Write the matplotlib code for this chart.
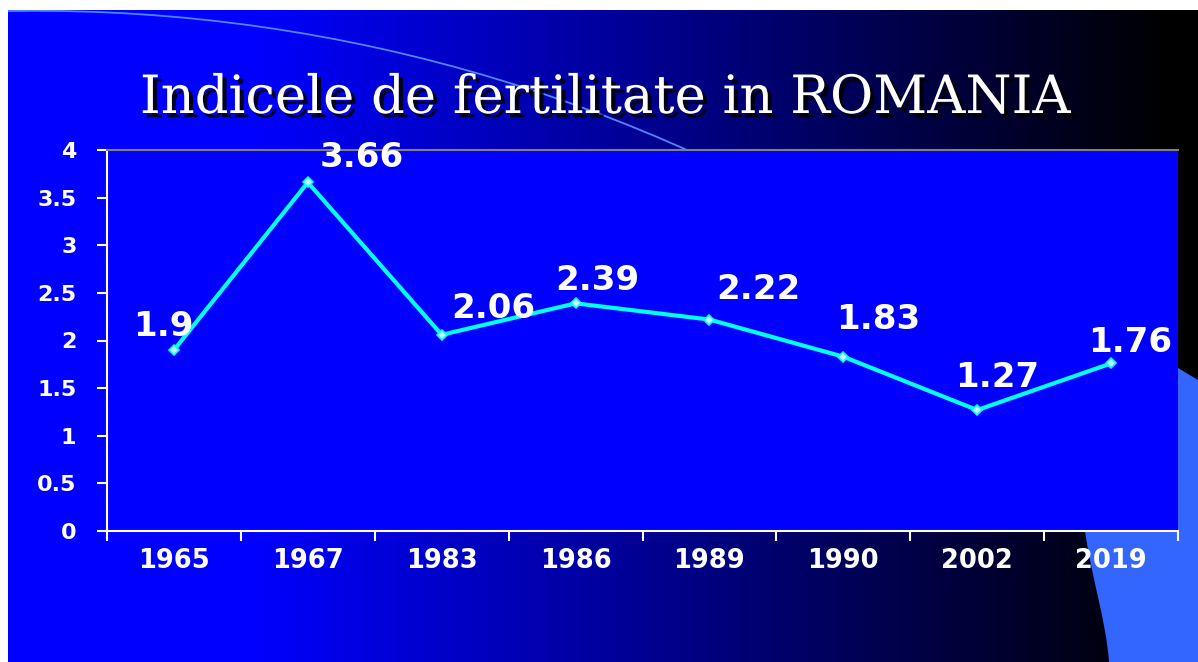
import numpy as np
import matplotlib
matplotlib.use("Agg")
import matplotlib.pyplot as plt
from matplotlib import patheffects
from matplotlib.path import Path
from matplotlib.patches import PathPatch, Rectangle, Arc

# ---- data ----
years = ["1965", "1967", "1983", "1986", "1989", "1990", "2002", "2019"]
fertility = [1.9, 3.66, 2.06, 2.39, 2.22, 1.83, 1.27, 1.76]
value_labels = ["1.9", "3.66", "2.06", "2.39", "2.22", "1.83", "1.27", "1.76"]
yticks = [0, 0.5, 1, 1.5, 2, 2.5, 3, 3.5, 4]
ytick_labels = ["0", "0.5", "1", "1.5", "2", "2.5", "3", "3.5", "4"]
title = "Indicele de fertilitate in ROMANIA"

# label offsets (pixels, from data point to label centre) -- layout only
label_offsets = [(-11, 24), (54, 25), (52, 26), (22, 23), (49, 30), (35, 37), (20, 33), (19, 21)]

W, H = 1198, 662
fig = plt.figure(figsize=(W / 100, H / 100), dpi=100)
fig.patch.set_facecolor("white")

# ---- background slide (pixel coordinates) ----
bg = fig.add_axes([0, 0, 1, 1])
bg.set_xlim(0, W)
bg.set_ylim(H, 0)
bg.axis("off")

xs = np.arange(W)
blue = np.clip((1170 - xs) / (1170 - 250), 0, 1) * 255
grad = np.zeros((2, W, 3))
grad[:, :, 2] = blue / 255.0
bg.imshow(grad, extent=[0, W, H, 0], aspect="auto", zorder=0, interpolation="bilinear")

# thin decorative arc
bg.add_patch(Arc((35.5, 1604.5), 2 * 1593.7, 2 * 1593.7, theta1=-95, theta2=-60,
                 color="#4f86ff", lw=1.3, zorder=2))

# light-blue shape at the lower right
verts = [(1198, 380), (1178, 368),
         (1120, 380), (1080, 460), (1085, 531),
         (1092, 580), (1106, 620), (1109, 662),
         (1198, 662), (1198, 380)]
codes = [Path.MOVETO, Path.LINETO,
         Path.CURVE4, Path.CURVE4, Path.CURVE4,
         Path.CURVE4, Path.CURVE4, Path.CURVE4,
         Path.LINETO, Path.CLOSEPOLY]
bg.add_patch(PathPatch(Path(verts, codes), facecolor="#3366ff", edgecolor="none", zorder=2))

# white border top / left
bg.add_patch(Rectangle((0, 0), W, 10, facecolor="white", edgecolor="none", zorder=5))
bg.add_patch(Rectangle((0, 0), 8, H, facecolor="white", edgecolor="none", zorder=5))

# title
bg.text(605, 113, title, ha="center", va="baseline", color="white",
        fontsize=38, family="DejaVu Serif", zorder=3,
        path_effects=[patheffects.SimplePatchShadow(offset=(3, -3), shadow_rgbFace="black", alpha=0.85),
                      patheffects.Normal()])

# ---- chart ----
L, R, T, B = 107, 1178, 150, 531
ax = fig.add_axes([L / W, 1 - B / H, (R - L) / W, (B - T) / H])
ax.set_facecolor("#0000ff")
x = np.arange(len(years))
ax.plot(x, fertility, color="#00ffff", lw=3, marker="D", markersize=5,
        markerfacecolor="#bfffff", markeredgecolor="#00ffff", markeredgewidth=1.2,
        zorder=3, clip_on=False)

for xi, yi, lab, (dx, dy) in zip(x, fertility, value_labels, label_offsets):
    ax.annotate(lab, (xi, yi), xytext=(dx, dy), textcoords="offset pixels",
                ha="center", va="center", color="white", fontsize=24.5,
                fontweight="bold", family="DejaVu Sans", zorder=4)

ax.set_xlim(-0.5, len(years) - 0.5)
ax.set_ylim(0, 4)
ax.set_yticks(yticks)
ax.set_yticklabels(ytick_labels)
ax.set_xticks(x)
ax.set_xticklabels(years)
ax.set_xticks(np.arange(len(years) + 1) - 0.5, minor=True)

ax.tick_params(axis="y", colors="white", direction="out", length=7, width=1.5, pad=15,
               labelsize=16)
ax.tick_params(axis="x", which="major", colors="white", length=0, pad=12, labelsize=18.5)
ax.tick_params(axis="x", which="minor", colors="white", direction="out", length=7, width=1.5)
for lab in ax.get_xticklabels() + ax.get_yticklabels():
    lab.set_fontweight("bold")
    lab.set_family("DejaVu Sans")

ax.spines["left"].set_color("white")
ax.spines["left"].set_linewidth(1.5)
ax.spines["bottom"].set_color("white")
ax.spines["bottom"].set_linewidth(1.5)
ax.spines["top"].set_color("#808080")
ax.spines["top"].set_linewidth(1.5)
ax.spines["right"].set_visible(False)

fig.savefig("out.png", dpi=100, facecolor=fig.get_facecolor())
